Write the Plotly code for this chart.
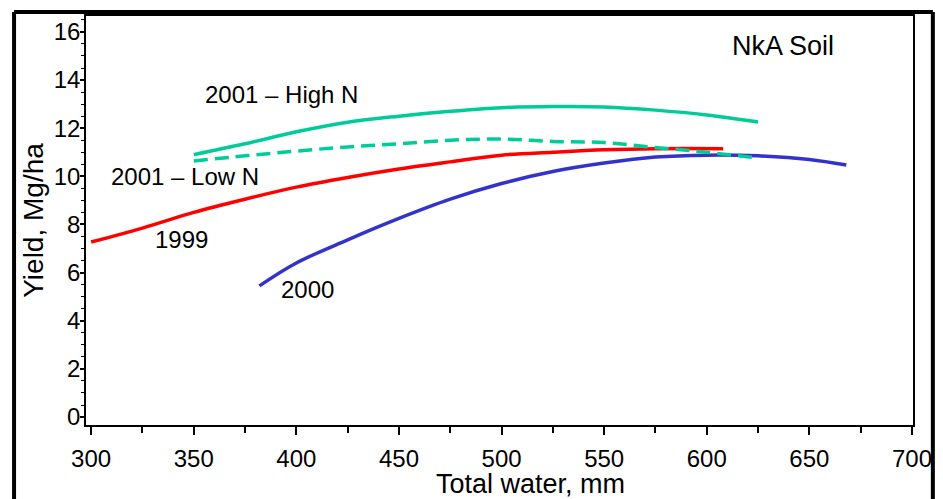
import plotly.graph_objects as go

# 1999
x_1999 = [300, 325, 350, 375, 400, 425, 450, 475, 500, 525, 550, 575, 608]
y_1999 = [7.27, 7.85, 8.5, 9.05, 9.55, 9.95, 10.3, 10.6, 10.88, 11.0, 11.1, 11.15, 11.15]

# 2000
x_2000 = [382, 400, 425, 450, 475, 500, 525, 550, 575, 600, 625, 650, 668]
y_2000 = [5.45, 6.4, 7.36, 8.25, 9.05, 9.7, 10.2, 10.55, 10.8, 10.88, 10.85, 10.7, 10.47]

# 2001 - High N
x_high = [350, 375, 400, 425, 450, 475, 500, 525, 550, 575, 600, 625]
y_high = [10.9, 11.35, 11.85, 12.25, 12.5, 12.7, 12.85, 12.9, 12.88, 12.75, 12.55, 12.26]

# 2001 - Low N
x_low = [350, 375, 400, 425, 450, 475, 500, 525, 550, 575, 600, 625]
y_low = [10.64, 10.85, 11.05, 11.22, 11.35, 11.5, 11.55, 11.45, 11.4, 11.2, 11.0, 10.76]

labels = ["NkA Soil", "2001 – High N", "2001 – Low N", "1999", "2000"]
label_x = [637, 392.7, 345.6, 344, 405.6]
label_y = [15.42, 13.42, 9.98, 7.36, 5.28]
label_size = [27, 24, 24, 24, 24]

x_title = "Total water, mm"
y_title = "Yield, Mg/ha"

RED = "#ff0000"
BLUE = "#3333cc"
GREEN = "#00cc99"
FONT = "Liberation Sans, Arial, sans-serif"

fig = go.Figure()
fig.add_trace(go.Scatter(x=x_1999, y=y_1999, mode="lines", line=dict(color=RED, width=3.5, shape="spline"), name="1999"))
fig.add_trace(go.Scatter(x=x_2000, y=y_2000, mode="lines", line=dict(color=BLUE, width=3.5, shape="spline"), name="2000"))
fig.add_trace(go.Scatter(x=x_high, y=y_high, mode="lines", line=dict(color=GREEN, width=3.5, shape="spline"), name="2001 – High N"))
fig.add_trace(go.Scatter(x=x_low, y=y_low, mode="lines", line=dict(color=GREEN, width=3.5, dash="14px,7px", shape="spline"), name="2001 – Low N"))

for t, lx, ly, s in zip(labels, label_x, label_y, label_size):
    fig.add_annotation(x=lx, y=ly, text=t, showarrow=False, xanchor="center", yanchor="middle",
                       font=dict(family=FONT, size=s, color="black"))

# x-axis title (placed slightly right of centre, as in the reference)
fig.add_annotation(xref="paper", yref="paper", x=0.538, y=-0.145, text=x_title, showarrow=False,
                   xanchor="center", yanchor="middle", font=dict(family=FONT, size=27, color="black"))

# outer thick frame
fig.add_shape(type="line", xref="paper", yref="paper", x0=-0.087, x1=-0.087, y0=-0.3, y1=1.0098,
              line=dict(color="black", width=4))
fig.add_shape(type="line", xref="paper", yref="paper", x0=-0.087, x1=1.024, y0=1.0098, y1=1.0098,
              line=dict(color="black", width=4))
fig.add_shape(type="line", xref="paper", yref="paper", x0=1.024, x1=1.024, y0=-0.3, y1=1.0098,
              line=dict(color="black", width=4))

fig.update_layout(
    width=943, height=499,
    margin=dict(l=78, r=38, t=8, b=82, autoexpand=False),
    paper_bgcolor="white", plot_bgcolor="white",
    showlegend=False,
    font=dict(family=FONT, color="black"),
)
fig.update_xaxes(
    range=[297.5, 700.5], tickvals=[300, 350, 400, 450, 500, 550, 600, 650, 700],
    ticks="outside", ticklen=8, tickwidth=1.5, tickcolor="black",
    minor=dict(dtick=25, tick0=300, ticks="outside", ticklen=6, tickwidth=1.5, tickcolor="black"),
    showline=True, linecolor="black", linewidth=1.5, mirror=True,
    showgrid=False, zeroline=False, automargin=False,
    tickfont=dict(family=FONT, size=24, color="black"),
    ticklabelstandoff=3,
)
fig.update_yaxes(
    range=[-0.33, 16.66], tickvals=[0, 2, 4, 6, 8, 10, 12, 14, 16],
    ticks="outside", ticklen=4, tickwidth=1.5, tickcolor="black",
    minor=dict(dtick=0.5, tick0=0, ticks="outside", ticklen=3, tickwidth=1, tickcolor="black"),
    showline=True, linecolor="black", linewidth=1.5, mirror=True,
    showgrid=False, zeroline=False, automargin=False,
    tickfont=dict(family=FONT, size=24, color="black"),
    ticklabelstandoff=-5,
    title=dict(text=y_title, font=dict(family=FONT, size=28, color="black"), standoff=2),
)

fig.write_html("out.html")
